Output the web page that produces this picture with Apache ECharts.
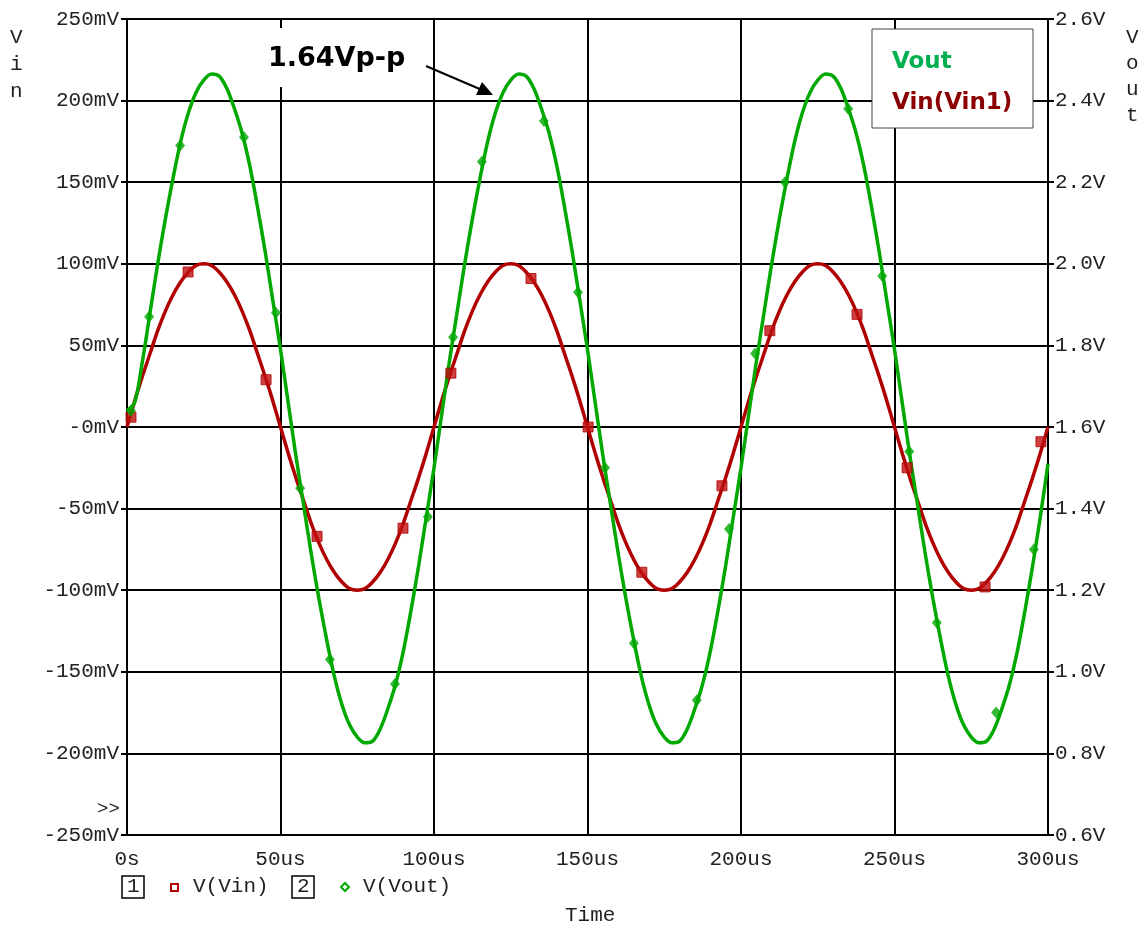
<!DOCTYPE html>
<html>
<head>
<meta charset="utf-8" />
<title>Vin / Vout</title>
<script type="text/javascript" src="https://cdn.jsdelivr.net/npm/echarts@6/dist/echarts.min.js"></script>
<style>
    html, body { margin: 0; padding: 0; background: #fff; }
    #main { width: 1146px; height: 925px; }
</style>
</head>
<body>
<div id="main"></div>
<script type="text/javascript">
    // sample times (us)
    var times = [0, 2.5, 5, 7.5, 10, 12.5, 15, 17.5, 20, 22.5, 25, 27.5, 30, 32.5, 35, 37.5, 40, 42.5, 45, 47.5,
                 50, 52.5, 55, 57.5, 60, 62.5, 65, 67.5, 70, 72.5, 75, 77.5, 80, 82.5, 85, 87.5, 90, 92.5, 95, 97.5,
                 100, 102.5, 105, 107.5, 110, 112.5, 115, 117.5, 120, 122.5, 125, 127.5, 130, 132.5, 135, 137.5, 140, 142.5, 145, 147.5,
                 150, 152.5, 155, 157.5, 160, 162.5, 165, 167.5, 170, 172.5, 175, 177.5, 180, 182.5, 185, 187.5, 190, 192.5, 195, 197.5,
                 200, 202.5, 205, 207.5, 210, 212.5, 215, 217.5, 220, 222.5, 225, 227.5, 230, 232.5, 235, 237.5, 240, 242.5, 245, 247.5,
                 250, 252.5, 255, 257.5, 260, 262.5, 265, 267.5, 270, 272.5, 275, 277.5, 280, 282.5, 285, 287.5, 290, 292.5, 295, 297.5, 300];
    // V(Vin) in mV
    var vin = [0, 16, 31, 45, 59, 71, 81, 89, 95, 99, 100, 99, 95, 89, 81, 71, 59, 45, 31, 16,
               0, -16, -31, -45, -59, -71, -81, -89, -95, -99, -100, -99, -95, -89, -81, -71, -59, -45, -31, -16,
               0, 16, 31, 45, 59, 71, 81, 89, 95, 99, 100, 99, 95, 89, 81, 71, 59, 45, 31, 16,
               0, -16, -31, -45, -59, -71, -81, -89, -95, -99, -100, -99, -95, -89, -81, -71, -59, -45, -31, -16,
               0, 16, 31, 45, 59, 71, 81, 89, 95, 99, 100, 99, 95, 89, 81, 71, 59, 45, 31, 16,
               0, -16, -31, -45, -59, -71, -81, -89, -95, -99, -100, -99, -95, -89, -81, -71, -59, -45, -31, -16, 0];
    // V(Vout) in V
    var vout = [1.64, 1.66, 1.76, 1.88, 2.00, 2.11, 2.21, 2.30, 2.37, 2.42, 2.45, 2.465, 2.46, 2.43, 2.38, 2.32, 2.24, 2.14, 2.03, 1.91,
                1.79, 1.66, 1.53, 1.41, 1.29, 1.18, 1.08, 0.99, 0.92, 0.87, 0.84, 0.826, 0.83, 0.86, 0.91, 0.97, 1.05, 1.15, 1.26, 1.38,
                1.50, 1.63, 1.76, 1.88, 2.00, 2.11, 2.21, 2.30, 2.37, 2.42, 2.45, 2.465, 2.46, 2.43, 2.38, 2.32, 2.24, 2.14, 2.03, 1.91,
                1.79, 1.66, 1.53, 1.41, 1.29, 1.18, 1.08, 0.99, 0.92, 0.87, 0.84, 0.826, 0.83, 0.86, 0.91, 0.97, 1.05, 1.15, 1.26, 1.38,
                1.50, 1.63, 1.76, 1.88, 2.00, 2.11, 2.21, 2.30, 2.37, 2.42, 2.45, 2.465, 2.46, 2.43, 2.38, 2.32, 2.24, 2.14, 2.03, 1.91,
                1.79, 1.66, 1.53, 1.41, 1.29, 1.18, 1.08, 0.99, 0.92, 0.87, 0.84, 0.826, 0.83, 0.86, 0.91, 0.97, 1.05, 1.15, 1.26, 1.38, 1.51];

    // marker points
    var vinMarkT = [1.3, 19.9, 45.3, 61.9, 89.9, 105.5, 131.6, 150.2, 167.7, 193.8, 209.4, 237.8, 254.1, 279.5, 297.7];
    var vinMarkV = [6, 95, 29, -67, -62, 33, 91, 0, -89, -36, 59, 69, -25, -98, -9];
    var voutMarkT = [1.3, 7.2, 17.3, 38.1, 48.5, 56.4, 66.1, 87.3, 98.0, 106.2, 115.6, 135.8, 146.9, 155.7, 165.1,
                     185.6, 196.1, 204.6, 214.3, 234.9, 246.0, 254.8, 263.8, 283.1, 295.4];
    var voutMarkV = [1.64, 1.87, 2.29, 2.31, 1.88, 1.45, 1.03, 0.97, 1.38, 1.82, 2.25, 2.35, 1.93, 1.50, 1.07,
                     0.93, 1.35, 1.78, 2.20, 2.38, 1.97, 1.54, 1.12, 0.90, 1.30];

    // tick labels
    var timeTicks = {0: '0s', 50: '50us', 100: '100us', 150: '150us', 200: '200us', 250: '250us', 300: '300us'};
    var vinTicks = {'-250': '-250mV', '-200': '-200mV', '-150': '-150mV', '-100': '-100mV', '-50': '-50mV', '0': '-0mV',
                    '50': '50mV', '100': '100mV', '150': '150mV', '200': '200mV', '250': '250mV'};
    var voutTicks = ['0.6V', '0.8V', '1.0V', '1.2V', '1.4V', '1.6V', '1.8V', '2.0V', '2.2V', '2.4V', '2.6V'];

    function pairs(xs, ys) {
        var out = [];
        for (var i = 0; i < xs.length; i++) {
            out.push([xs[i], ys[i]]);
        }
        return out;
    }

    var RED = '#b00000';
    var GREEN = '#00a800';
    var MONO = 'Liberation Mono';
    var labelStyle = { color: '#222', fontFamily: MONO, fontSize: 21 };

    var myChart = echarts.init(document.getElementById('main'));
    myChart.setOption({
        animation: false,
        backgroundColor: '#fff',
        grid: { left: 127, right: 98, top: 19, bottom: 90 },
        xAxis: {
            type: 'value', min: 0, max: 300, interval: 50,
            axisLine: { lineStyle: { color: '#000', width: 2 } },
            axisTick: { show: true, length: 6, lineStyle: { color: '#000', width: 2 } },
            splitLine: { show: true, lineStyle: { color: '#000', width: 2 } },
            axisLabel: Object.assign({ margin: 14, formatter: function (v) { return timeTicks[v]; } }, labelStyle)
        },
        yAxis: [
            {
                type: 'value', min: -250, max: 250, interval: 50,
                axisLine: { show: true, lineStyle: { color: '#000', width: 2 } },
                axisTick: { show: true, length: 6, lineStyle: { color: '#000', width: 2 } },
                splitLine: { show: true, lineStyle: { color: '#000', width: 2 } },
                axisLabel: Object.assign({ margin: 8, formatter: function (v) { return vinTicks[String(Math.round(v))]; } }, labelStyle)
            },
            {
                type: 'value', min: 0.6, max: 2.6, interval: 0.2,
                axisLine: { show: true, lineStyle: { color: '#000', width: 2 } },
                axisTick: { show: true, length: 6, lineStyle: { color: '#000', width: 2 } },
                splitLine: { show: false },
                axisLabel: Object.assign({ margin: 7, formatter: function (v) { return voutTicks[Math.round((v - 0.6) / 0.2)]; } }, labelStyle)
            }
        ],
        series: [
            {
                name: 'V(Vin)', type: 'line', yAxisIndex: 0, smooth: 0.3, showSymbol: false,
                data: pairs(times, vin),
                lineStyle: { color: RED, width: 3.5 }, z: 3
            },
            {
                name: 'V(Vout)', type: 'line', yAxisIndex: 1, smooth: 0.3, showSymbol: false,
                data: pairs(times, vout),
                lineStyle: { color: GREEN, width: 3.5 }, z: 4
            },
            {
                type: 'scatter', yAxisIndex: 0, symbol: 'rect', symbolSize: 10,
                data: pairs(vinMarkT, vinMarkV),
                itemStyle: { color: '#c01010', borderColor: RED, borderWidth: 1 }, z: 5
            },
            {
                type: 'scatter', yAxisIndex: 1, symbol: 'diamond', symbolSize: [10, 12],
                data: pairs(voutMarkT, voutMarkV),
                itemStyle: { color: GREEN }, z: 6
            }
        ],
        graphic: [
            // axis names written vertically
            { type: 'text', left: 10, top: 24, style: { text: 'V\ni\nn', font: '21px ' + MONO, lineHeight: 27, fill: '#222' } },
            { type: 'text', left: 1126, top: 24, style: { text: 'V\no\nu\nt', font: '21px ' + MONO, lineHeight: 26, fill: '#222' } },
            { type: 'text', left: 97, top: 799, style: { text: '>>', font: '19px ' + MONO, fill: '#222' } },
            { type: 'text', left: 565, top: 905, style: { text: 'Time', font: '21px ' + MONO, fill: '#222' } },
            // bottom trace list
            { type: 'rect', shape: { x: 122, y: 876, width: 22, height: 22 }, style: { fill: '#fff', stroke: '#000', lineWidth: 1.5 } },
            { type: 'text', left: 127, top: 876, style: { text: '1', font: '21px ' + MONO, fill: '#222' } },
            { type: 'rect', shape: { x: 171, y: 884, width: 7, height: 7 }, style: { fill: '#fff', stroke: RED, lineWidth: 2 } },
            { type: 'text', left: 193, top: 876, style: { text: 'V(Vin)', font: '21px ' + MONO, fill: '#222' } },
            { type: 'rect', shape: { x: 292, y: 876, width: 22, height: 22 }, style: { fill: '#fff', stroke: '#000', lineWidth: 1.5 } },
            { type: 'text', left: 297, top: 876, style: { text: '2', font: '21px ' + MONO, fill: '#222' } },
            { type: 'polygon', shape: { points: [[345, 883], [349, 887], [345, 891], [341, 887]] }, style: { fill: '#fff', stroke: GREEN, lineWidth: 2 } },
            { type: 'text', left: 363, top: 876, style: { text: 'V(Vout)', font: '21px ' + MONO, fill: '#222' } },
            // legend box top right
            { type: 'rect', z: 10, shape: { x: 872, y: 29, width: 161, height: 99 }, style: { fill: '#fff', stroke: '#444', lineWidth: 1 } },
            { type: 'text', z: 11, left: 892, top: 51, style: { text: 'Vout', font: 'bold 23px "DejaVu Sans"', fill: '#00b050' } },
            { type: 'text', z: 11, left: 892, top: 92, style: { text: 'Vin(Vin1)', font: 'bold 23px "DejaVu Sans"', fill: '#8b0000' } },
            // peak-to-peak note with arrow
            { type: 'rect', z: 10, shape: { x: 262, y: 28, width: 158, height: 59 }, style: { fill: '#fff' } },
            { type: 'text', z: 11, left: 268, top: 45, style: { text: '1.64Vp-p', font: 'bold 27px "DejaVu Sans"', fill: '#000' } },
            { type: 'line', z: 11, shape: { x1: 426, y1: 66, x2: 482, y2: 90 }, style: { stroke: '#000', lineWidth: 2 } },
            { type: 'polygon', z: 11, shape: { points: [[493, 95], [476, 95], [482, 82]] }, style: { fill: '#000' } }
        ]
    });
</script>
</body>
</html>
